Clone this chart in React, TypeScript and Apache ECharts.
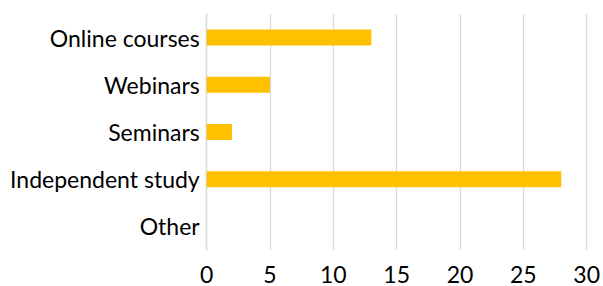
import React, { useEffect, useRef } from "react";
import * as echarts from "echarts";

const categories = ["Online courses", "Webinars", "Seminars", "Independent study", "Other"];
const values = [13, 5, 2, 28, 0];
const xTicks = [0, 5, 10, 15, 20, 25, 30];

export default function App() {
  const ref = useRef<HTMLDivElement>(null);
  useEffect(() => {
    if (!ref.current) return;
    const chart = echarts.init(ref.current, undefined, { renderer: "svg" });
    chart.setOption({
      animation: false,
      backgroundColor: "#ffffff",
      grid: { left: 206.7, right: 11.3, top: 14, bottom: 36, containLabel: false },
      xAxis: {
        type: "value",
        min: xTicks[0],
        max: xTicks[xTicks.length - 1],
        interval: 5,
        axisLine: { show: false },
        axisTick: { show: false },
        splitLine: { show: true, lineStyle: { color: "#D9D9D9", width: 1.3 } },
        axisLabel: {
          color: "#000000",
          fontFamily: "Lato",
          fontSize: 23,
          margin: 12,
        },
      },
      yAxis: {
        type: "category",
        data: categories,
        inverse: true,
        axisLine: { show: true, lineStyle: { color: "#D9D9D9", width: 1.3 } },
        axisTick: { show: false },
        axisLabel: {
          color: "#000000",
          fontFamily: "Lato",
          fontSize: 23,
          margin: 7,
          padding: [10, 0, 0, 0],
        },
      },
      series: [
        {
          type: "bar",
          data: values,
          barWidth: 16,
          itemStyle: { color: "#FFC000" },
        },
      ],
    });
    return () => chart.dispose();
  }, []);
  return (
    <div
      ref={ref}
      style={{ position: "fixed", left: 0, top: 0, width: 603, height: 286, background: "#fff" }}
    />
  );
}
